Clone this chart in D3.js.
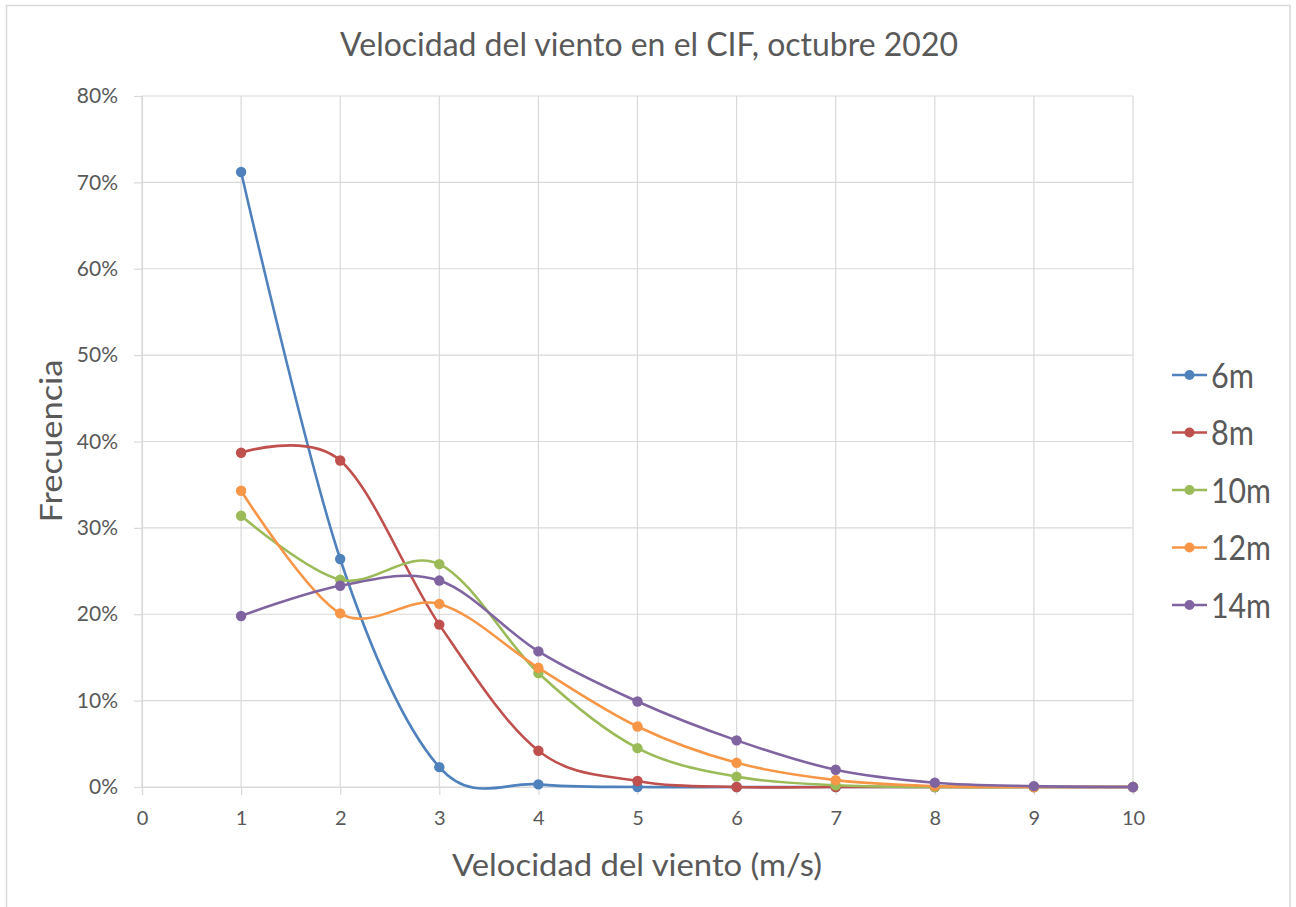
<!DOCTYPE html>
<html>
<head>
<meta charset="utf-8">
<script src="https://cdn.jsdelivr.net/npm/d3@7"></script>
<style>
  html, body { margin: 0; padding: 0; background: #fff; }
  svg { display: block; }
  text { font-family: Lato, "Open Sans", sans-serif; fill: #595959; }
</style>
</head>
<body>
<svg id="chart" width="1296" height="907"></svg>
<script>
// ---- Data ----
const speeds = [1, 2, 3, 4, 5, 6, 7, 8, 9, 10];
const seriesNames = ["6m", "8m", "10m", "12m", "14m"];
const colors = ["#4F81BD", "#C0504D", "#9BBB59", "#F79646", "#8064A2"];
const s6m  = [71.2, 26.4, 2.3, 0.3, 0.0, 0.0, 0.0, 0.0, 0.0, 0.0];
const s8m  = [38.7, 37.8, 18.8, 4.2, 0.7, 0.0, 0.0, 0.0, 0.0, 0.0];
const s10m = [31.4, 24.0, 25.8, 13.2, 4.5, 1.2, 0.2, 0.0, 0.0, 0.0];
const s12m = [34.3, 20.1, 21.2, 13.8, 7.0, 2.8, 0.8, 0.1, 0.0, 0.0];
const s14m = [19.8, 23.3, 23.9, 15.7, 9.9, 5.4, 2.0, 0.5, 0.1, 0.0];
const seriesValues = [s6m, s8m, s10m, s12m, s14m];
const xTicks = [0, 1, 2, 3, 4, 5, 6, 7, 8, 9, 10];
const yTicks = [0, 10, 20, 30, 40, 50, 60, 70, 80];
const title = "Velocidad del viento en el CIF, octubre 2020";
const xTitle = "Velocidad del viento (m/s)";
const yTitle = "Frecuencia";

// ---- Layout ----
const svg = d3.select("#chart");
const plot = { left: 142, top: 96, right: 1133, bottom: 787 };
const x = d3.scaleLinear().domain([0, 10]).range([plot.left, plot.right]);
const y = d3.scaleLinear().domain([0, 80]).range([plot.bottom, plot.top]);
const gridColor = "#d9d9d9";

function fit(sel, w) {
  sel.attr("textLength", w).attr("lengthAdjust", "spacingAndGlyphs");
}

// chart border
svg.append("rect")
  .attr("x", 6.5).attr("y", 5.5).attr("width", 1283.5).attr("height", 920)
  .attr("fill", "none").attr("stroke", gridColor).attr("stroke-width", 1.5);

// gridlines
const g = svg.append("g");
g.selectAll("line.hg").data(yTicks).join("line")
  .attr("x1", plot.left).attr("x2", plot.right)
  .attr("y1", d => y(d)).attr("y2", d => y(d))
  .attr("stroke", gridColor).attr("stroke-width", 1.2);
g.selectAll("line.vg").data(xTicks).join("line")
  .attr("x1", d => x(d)).attr("x2", d => x(d))
  .attr("y1", plot.top).attr("y2", plot.bottom)
  .attr("stroke", gridColor).attr("stroke-width", 1.2);

// axes with d3
const yAxis = d3.axisLeft(y).tickValues(yTicks).tickFormat(d => d + "%").tickSize(8).tickPadding(16);
const xAxis = d3.axisBottom(x).tickValues(xTicks).tickFormat(d3.format("d")).tickSize(8).tickPadding(16);

const gy = svg.append("g").attr("transform", `translate(${plot.left},0)`).call(yAxis);
const gx = svg.append("g").attr("transform", `translate(0,${plot.bottom})`).call(xAxis);
[gx, gy].forEach(a => {
  a.select(".domain").attr("stroke", gridColor).attr("stroke-width", 1.2);
  a.selectAll(".tick line").attr("stroke", gridColor).attr("stroke-width", 1.2);
  a.selectAll(".tick text").attr("fill", "#595959").style("font-family", "Lato, 'Open Sans', sans-serif");
});
gy.selectAll(".tick text").attr("font-size", 21);
gx.selectAll(".tick text").attr("font-size", 20);

// series lines
const line = d3.line()
  .x((d, i) => x(speeds[i]))
  .y(d => y(d))
  .curve(d3.curveCardinal.tension(0));

seriesValues.forEach((vals, si) => {
  svg.append("path")
    .datum(vals)
    .attr("d", line)
    .attr("fill", "none")
    .attr("stroke", colors[si])
    .attr("stroke-width", 2.6)
    .attr("stroke-linejoin", "round");
  svg.append("g").selectAll("circle").data(vals).join("circle")
    .attr("cx", (d, i) => x(speeds[i]))
    .attr("cy", d => y(d))
    .attr("r", 5.2)
    .attr("fill", colors[si]);
});

// title
svg.append("text")
  .attr("x", 649).attr("y", 56)
  .attr("text-anchor", "middle")
  .attr("font-size", 32)
  .text(title).call(fit, 618);

// x axis title
svg.append("text")
  .attr("x", 637).attr("y", 876)
  .attr("text-anchor", "middle")
  .attr("font-size", 30)
  .text(xTitle).call(fit, 370);

// y axis title
svg.append("text")
  .attr("transform", "translate(62,441) rotate(-90)")
  .attr("text-anchor", "middle")
  .attr("font-size", 30)
  .text(yTitle).call(fit, 163);

// legend
const legendY0 = 375, legendStep = 57.5;
const legend = svg.append("g");
seriesNames.forEach((name, i) => {
  const ly = legendY0 + i * legendStep;
  legend.append("line")
    .attr("x1", 1172).attr("x2", 1207).attr("y1", ly).attr("y2", ly)
    .attr("stroke", colors[i]).attr("stroke-width", 2.6);
  legend.append("circle")
    .attr("cx", 1189.5).attr("cy", ly).attr("r", 5)
    .attr("fill", colors[i]);
  legend.append("text")
    .attr("x", 1211).attr("y", ly + 12.5)
    .attr("font-size", 34)
    .text(name).call(fit, name.length === 2 ? 43 : 60);
});
</script>
</body>
</html>
